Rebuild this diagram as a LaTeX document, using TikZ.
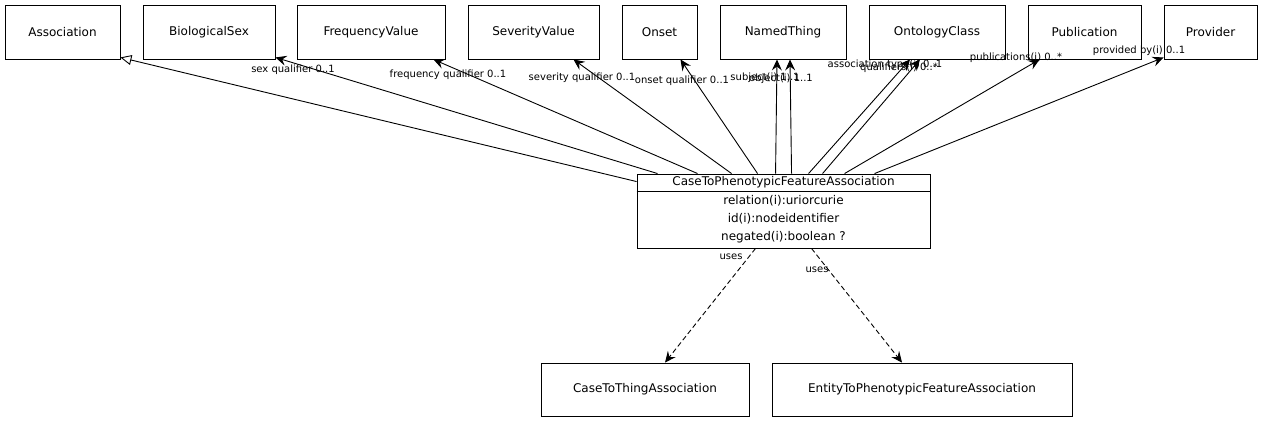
\documentclass[tikz,border=0pt]{standalone}
\usepackage{fontspec}
\setmainfont{DejaVu Sans}
\usetikzlibrary{arrows.meta,calc}
\begin{document}
\begin{tikzpicture}[x=1pt,y=-1pt,
  box/.style={draw,line width=0.9pt,rectangle,inner sep=0pt,minimum height=54pt,font=\fontsize{12}{14}\selectfont},
  lbl/.style={inner sep=0pt,font=\fontsize{10}{11}\selectfont},
  row/.style={inner sep=0pt,font=\fontsize{12}{14}\selectfont},
  assoc/.style={-{Stealth[length=11pt,width=10pt,inset=4pt]},line width=0.9pt},
  uses/.style={-{Stealth[length=11pt,width=10pt,inset=4pt]},line width=0.9pt,dash pattern=on 5pt off 3pt},
  isa/.style={-{Triangle[open,length=11pt,width=10pt,fill=white]},line width=0.9pt}]
\useasboundingbox (0,0) rectangle (1263,423);
% top row
\node[box,minimum width=115pt] (association) at (62.5,32) {Association};
\node[box,minimum width=132pt] (biosex) at (209,32) {BiologicalSex};
\node[box,minimum width=148pt] (freq) at (371,32) {FrequencyValue};
\node[box,minimum width=131pt] (sev) at (533.5,32) {SeverityValue};
\node[box,minimum width=75pt] (onset) at (659.5,32) {Onset};
\node[box,minimum width=126pt] (named) at (783,32) {NamedThing};
\node[box,minimum width=136pt] (onto) at (937,32) {OntologyClass};
\node[box,minimum width=113pt] (pub) at (1084.5,32) {Publication};
\node[box,minimum width=93pt] (prov) at (1210.5,32) {Provider};
% main class
\node[draw,line width=0.9pt,rectangle,inner sep=0pt,minimum width=293pt,minimum height=74pt] (main) at (783.5,211) {};
\draw[line width=0.9pt] ($(main.north west)+(0,18)$) coordinate (hl) -- ($(main.north east)+(0,18)$) coordinate (hr);
\node[row] (hdr) at ($(main.north)+(0,9)$) {CaseToPhenotypicFeatureAssociation};
\node[row] (r1) at ($(main.north)+(0,27)$) {relation(i):uriorcurie};
\node[row] (r2) at ($(main.north)+(0,45.5)$) {id(i):nodeidentifier};
\node[row] (r3) at ($(main.north)+(0,64)$) {negated(i):boolean ?};
% bottom row
\node[box,minimum width=208pt,minimum height=53pt] (c2t) at (645,389.5) {CaseToThingAssociation};
\node[box,minimum width=300pt,minimum height=53pt] (e2p) at (922,389.5) {EntityToPhenotypicFeatureAssociation};
% edges
\draw[isa] ($(main.north west)+(0,8)$) -- ($(association.south east)+(0,-2)$);
\draw[assoc] ($(main.north west)+(21,0)$) -- ($(biosex.south east)+(0,-2)$);
\draw[assoc] ($(main.north west)+(61,0)$) -- ($(freq.south east)+(-12,0)$);
\draw[assoc] ($(main.north west)+(95,0)$) -- ($(sev.south east)+(-26,0)$);
\draw[assoc] ($(main.north west)+(121,0)$) -- ($(onset.south east)+(-17,0)$);
\draw[assoc] ($(main.north west)+(139,0)$) -- ($(named.south)+(-6,0)$);
\draw[assoc] ($(main.north west)+(155,0)$) -- ($(named.south)+(7,0)$);
\draw[assoc] ($(main.north west)+(172,0)$) -- ($(onto.south)+(-27,0)$);
\draw[assoc] ($(main.north west)+(186,0)$) -- ($(onto.south)+(-17,0)$);
\draw[assoc] ($(main.north west)+(208,0)$) -- ($(pub.south west)+(12,0)$);
\draw[assoc] ($(main.north west)+(238,0)$) -- ($(prov.south west)+(0,-2)$);
\draw[uses] ($(main.south)+(-28,0)$) -- ($(c2t.north)+(20,0)$);
\draw[uses] ($(main.south)+(28,0)$) -- ($(e2p.north)+(-20,0)$);
% labels
\node[lbl] (l1) at (293,70) {sex qualifier 0..1};
\node[lbl] (l2) at (448,75) {frequency qualifier 0..1};
\node[lbl] (l3) at (582,78) {severity qualifier 0..1};
\node[lbl] (l4) at (682,81) {onset qualifier 0..1};
\node[lbl] (l5) at (765,78) {subject(i) 1..1};
\node[lbl] (l6) at (781,79) {object(i) 1..1};
\node[lbl] (l7) at (885,65) {association type(i) 0..1};
\node[lbl] (l8) at (899,68) {qualifiers(i) 0..*};
\node[lbl] (l9) at (1016,58) {publications(i) 0..*};
\node[lbl] (l10) at (1139,51) {provided by(i) 0..1};
\node[lbl] (u1) at (731,257) {uses};
\node[lbl] (u2) at (817,270) {uses};
\end{tikzpicture}
\end{document}
